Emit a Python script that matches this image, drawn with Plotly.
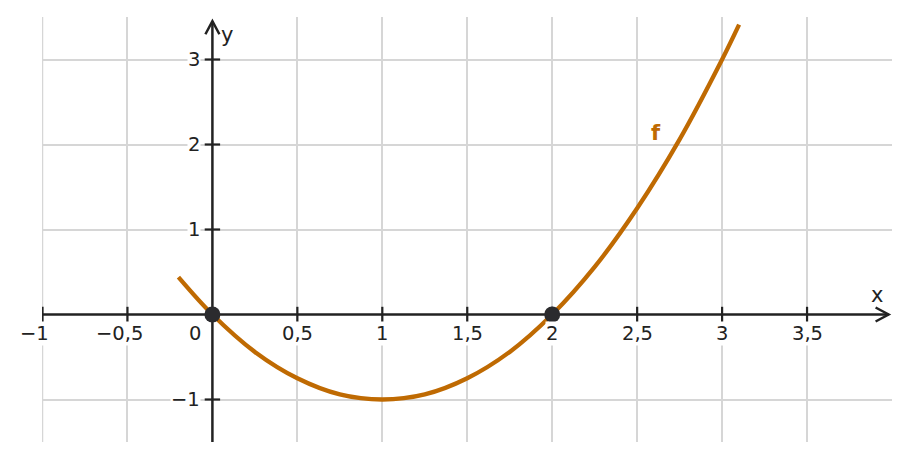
import plotly.graph_objects as go

# Curve f
fx = [-0.2, 0.0, 0.25, 0.5, 0.75, 1.0, 1.25, 1.5, 1.75, 2.0, 2.25, 2.5, 2.75, 3.0, 3.1]
fy = [0.44, 0.0, -0.44, -0.75, -0.94, -1.0, -0.94, -0.75, -0.44, 0.0, 0.56, 1.25, 2.06, 3.0, 3.41]

# Marked points (zeros)
px = [0, 2]
py = [0, 0]

# Ticks
xticks = [-1, -0.5, 0.5, 1, 1.5, 2, 2.5, 3, 3.5]
xlabels = ["−1", "−0,5", "0,5", "1", "1,5", "2", "2,5", "3", "3,5"]
yticks = [-1, 1, 2, 3]
ylabels = ["−1", "1", "2", "3"]

xgrid = [-1, -0.5, 0.5, 1, 1.5, 2, 2.5, 3, 3.5]
ygrid = [-1, 1, 2, 3]

AX = "#222222"
ORANGE = "#bf6a02"
GRID = "#d6d6d6"
FONT = "DejaVu Sans"
FS = 19.5

fig = go.Figure()

# tick marks
fig.add_trace(go.Scatter(x=xticks, y=[0] * len(xticks), mode="markers",
                         marker=dict(symbol="line-ns-open", size=11, color=AX, line=dict(width=2.2, color=AX)),
                         hoverinfo="skip", showlegend=False))
fig.add_trace(go.Scatter(x=[0] * len(yticks), y=yticks, mode="markers",
                         marker=dict(symbol="line-ew-open", size=11, color=AX, line=dict(width=2.2, color=AX)),
                         hoverinfo="skip", showlegend=False))

fig.add_trace(go.Scatter(x=fx, y=fy, mode="lines", line=dict(color=ORANGE, width=4.3, shape="spline"),
                         hoverinfo="skip", showlegend=False))
fig.add_trace(go.Scatter(x=px, y=py, mode="markers",
                         marker=dict(size=16, color="#2b2b2e"), hoverinfo="skip", showlegend=False))

# left-edge grid line (plotly skips it at the range boundary)
fig.add_shape(type="line", x0=xgrid[0], y0=-1.5, x1=xgrid[0], y1=3.5, xref="x", yref="y",
              line=dict(color=GRID, width=1.5), layer="below")
# axis lines
fig.add_shape(type="line", x0=-1, y0=0, x1=3.98, y1=0, line=dict(color=AX, width=2.5), layer="between")
fig.add_shape(type="line", x0=0, y0=-1.5, x1=0, y1=3.45, line=dict(color=AX, width=2.5), layer="between")
# arrow heads
fig.add_shape(type="path", xsizemode="pixel", ysizemode="pixel", xanchor=3.98, yanchor=0,
              path="M -13 -7 L 0 0 L -13 7", line=dict(color=AX, width=2.5), layer="above")
fig.add_shape(type="path", xsizemode="pixel", ysizemode="pixel", xanchor=0, yanchor=3.45,
              path="M -7 -13 L 0 0 L 7 -13", line=dict(color=AX, width=2.5), layer="above")

ann = []
for v, t in zip(xticks, xlabels):
    shift = -8 if t.startswith("−") else 0
    ann.append(dict(x=v, y=0, text=t, showarrow=False, xanchor="center", yanchor="middle",
                    xshift=shift, yshift=-19, bgcolor="white", borderpad=0,
                    font=dict(family=FONT, size=FS, color=AX)))
for v, t in zip(yticks, ylabels):
    ann.append(dict(x=0, y=v, text=t, showarrow=False, xanchor="right", yanchor="middle",
                    xshift=-11, bgcolor="white", borderpad=0,
                    font=dict(family=FONT, size=FS, color=AX)))
ann.append(dict(x=0, y=0, text="0", showarrow=False, xanchor="center", yanchor="middle",
                xshift=-17, yshift=-19, font=dict(family=FONT, size=FS, color=AX)))
ann.append(dict(x=3.91, y=0.235, text="x", showarrow=False, font=dict(family=FONT, size=21, color=AX)))
ann.append(dict(x=0.085, y=3.29, text="y", showarrow=False, font=dict(family=FONT, size=21, color=AX)))
ann.append(dict(x=2.61, y=2.13, text="<b>f</b>", showarrow=False, font=dict(family=FONT, size=21, color=ORANGE)))

fig.update_layout(
    width=911, height=461,
    margin=dict(l=42, r=19, t=17, b=19),
    plot_bgcolor="white", paper_bgcolor="white",
    annotations=ann,
    xaxis=dict(range=[-1.003, 4], tickvals=xgrid, showticklabels=False, showgrid=True,
               gridcolor=GRID, gridwidth=1.5, zeroline=False, showline=False, ticks=""),
    yaxis=dict(range=[-1.5, 3.5], tickvals=ygrid, showticklabels=False, showgrid=True,
               gridcolor=GRID, gridwidth=1.5, zeroline=False, showline=False, ticks=""),
)

fig.write_html("out.html", config={"displayModeBar": False},
               post_script="document.body.style.margin='0';")
